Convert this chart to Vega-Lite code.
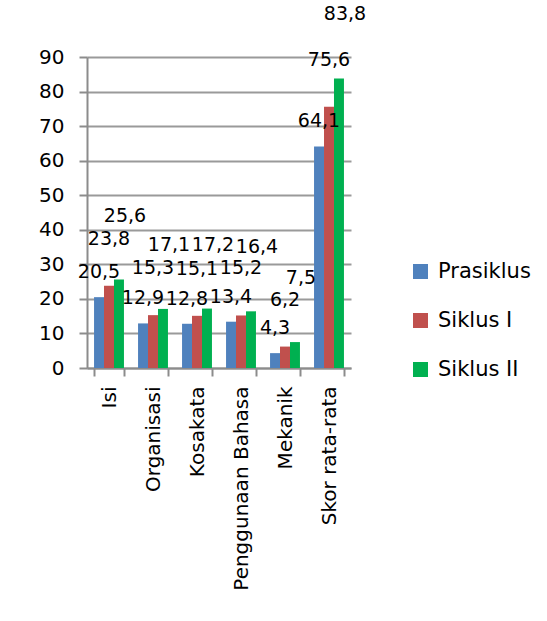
{
  "$schema": "https://vega.github.io/schema/vega-lite/v6.json",
  "autosize": "none",
  "padding": {"left": 87, "top": 57, "right": 196, "bottom": 253},
  "width": 264,
  "height": 311,
  "background": "white",
  "config": {
    "font": "DejaVu Sans",
    "view": {"stroke": null},
    "axis": {"labelFont": "DejaVu Sans", "labelColor": "black"}
  },
  "data": {
    "values": [
      {"aspek": "Isi", "siklus": "Prasiklus", "nilai": 20.5, "label": "20,5"},
      {"aspek": "Isi", "siklus": "Siklus I", "nilai": 23.8, "label": "23,8"},
      {"aspek": "Isi", "siklus": "Siklus II", "nilai": 25.6, "label": "25,6"},
      {"aspek": "Organisasi", "siklus": "Prasiklus", "nilai": 12.9, "label": "12,9"},
      {"aspek": "Organisasi", "siklus": "Siklus I", "nilai": 15.3, "label": "15,3"},
      {"aspek": "Organisasi", "siklus": "Siklus II", "nilai": 17.1, "label": "17,1"},
      {"aspek": "Kosakata", "siklus": "Prasiklus", "nilai": 12.8, "label": "12,8"},
      {"aspek": "Kosakata", "siklus": "Siklus I", "nilai": 15.1, "label": "15,1"},
      {"aspek": "Kosakata", "siklus": "Siklus II", "nilai": 17.2, "label": "17,2"},
      {"aspek": "Penggunaan Bahasa", "siklus": "Prasiklus", "nilai": 13.4, "label": "13,4"},
      {"aspek": "Penggunaan Bahasa", "siklus": "Siklus I", "nilai": 15.2, "label": "15,2"},
      {"aspek": "Penggunaan Bahasa", "siklus": "Siklus II", "nilai": 16.4, "label": "16,4"},
      {"aspek": "Mekanik", "siklus": "Prasiklus", "nilai": 4.3, "label": "4,3"},
      {"aspek": "Mekanik", "siklus": "Siklus I", "nilai": 6.2, "label": "6,2"},
      {"aspek": "Mekanik", "siklus": "Siklus II", "nilai": 7.5, "label": "7,5"},
      {"aspek": "Skor rata-rata", "siklus": "Prasiklus", "nilai": 64.1, "label": "64,1"},
      {"aspek": "Skor rata-rata", "siklus": "Siklus I", "nilai": 75.6, "label": "75,6"},
      {"aspek": "Skor rata-rata", "siklus": "Siklus II", "nilai": 83.8, "label": "83,8"}
    ]
  },
  "encoding": {
    "x": {
      "field": "aspek",
      "type": "nominal",
      "sort": null,
      "scale": {"paddingInner": 0.32, "paddingOuter": 0.16},
      "axis": {
        "title": null,
        "labelAngle": -90,
        "labelFontSize": 20,
        "labelPadding": 10,
        "labelLimit": 0,
        "tickBand": "extent",
        "tickSize": 8,
        "tickColor": "#8c8c8c",
        "tickWidth": 2,
        "domainColor": "#8c8c8c",
        "domainWidth": 2,
        "labelOverlap": false
      }
    },
    "xOffset": {"field": "siklus", "type": "nominal"},
    "y": {
      "field": "nilai",
      "type": "quantitative",
      "scale": {"domain": [0, 90], "nice": false},
      "axis": {
        "title": null,
        "values": [0, 10, 20, 30, 40, 50, 60, 70, 80, 90],
        "labelFontSize": 20,
        "labelPadding": 15,
        "tickSize": 8,
        "tickColor": "#8c8c8c",
        "tickWidth": 2,
        "domainColor": "#8c8c8c",
        "domainWidth": 2,
        "grid": true,
        "gridColor": "#9a9a9a",
        "gridWidth": 2
      }
    }
  },
  "layer": [
    {
      "mark": {"type": "bar"},
      "encoding": {
        "color": {
          "field": "siklus",
          "type": "nominal",
          "scale": {"domain": ["Prasiklus", "Siklus I", "Siklus II"], "range": ["#4F81BD", "#C0504D", "#00B050"]},
          "legend": {
            "title": null,
            "orient": "none",
            "legendX": 323,
            "legendY": 204,
            "symbolType": "square",
            "symbolSize": 225,
            "symbolStrokeWidth": 0,
            "labelFontSize": 21,
            "labelFont": "DejaVu Sans",
            "labelColor": "black",
            "labelOffset": 7,
            "rowPadding": 27,
            "padding": 0
          }
        }
      }
    },
    {
      "transform": [{"filter": "datum.siklus === 'Prasiklus'"}],
      "mark": {"type": "text", "baseline": "middle", "dy": -25, "fontSize": 19, "color": "black"},
      "encoding": {"text": {"field": "label"}}
    },
    {
      "transform": [{"filter": "datum.siklus === 'Siklus I'"}],
      "mark": {"type": "text", "baseline": "middle", "dy": -47, "fontSize": 19, "color": "black"},
      "encoding": {"text": {"field": "label"}}
    },
    {
      "transform": [{"filter": "datum.siklus === 'Siklus II'"}],
      "mark": {"type": "text", "baseline": "middle", "dy": -64, "dx": 6, "fontSize": 19, "color": "black"},
      "encoding": {"text": {"field": "label"}}
    }
  ]
}
